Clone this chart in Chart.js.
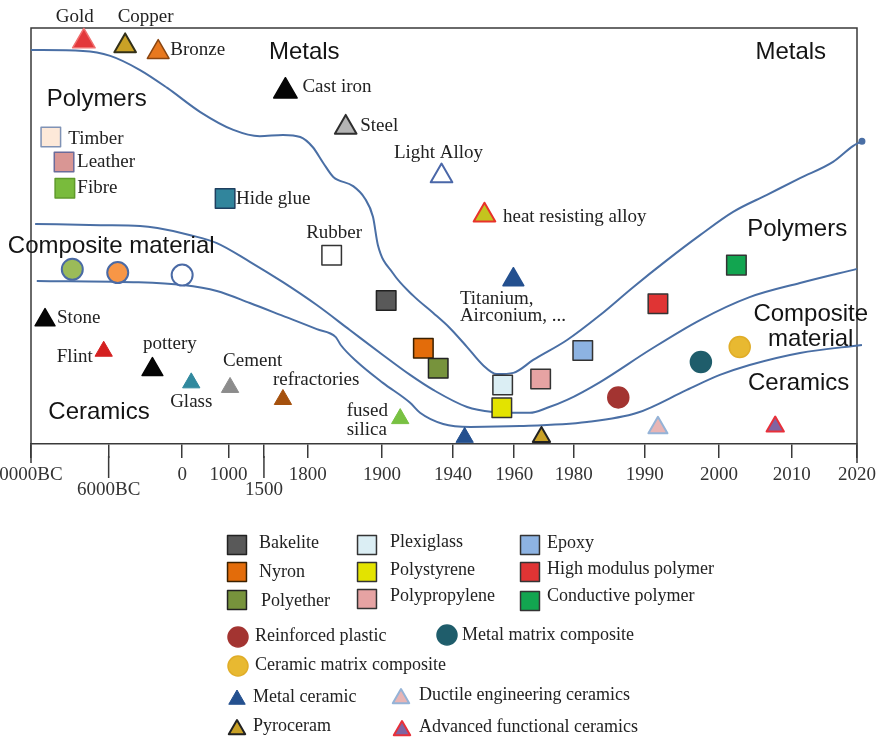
<!DOCTYPE html>
<html>
<head>
<meta charset="utf-8">
<script src="https://cdn.jsdelivr.net/npm/chart.js@4.4.1/dist/chart.umd.min.js"></script>
<style>
  html, body { margin: 0; padding: 0; background: #ffffff; }
  canvas { display: block; }
</style>
</head>
<body>
<canvas id="materials" width="881" height="738"></canvas>
<script>
// ---------- Timeline axis (0–100 across the frame) ----------
const tickLabels = ['0000BC', '6000BC', '0', '1000', '1500', '1800', '1900', '1940', '1960', '1980', '1990', '2000', '2010', '2020'];
const tickValues = [0, 9.4, 18.3, 23.9, 28.2, 33.5, 42.5, 51.1, 58.5, 65.7, 74.3, 83.3, 92.1, 100];
const droppedTicks = ['6000BC', '1500'];

// ---------- Materials (x = timeline position, y = relative importance) ----------
const metalNames = ['Gold', 'Copper', 'Bronze', 'Cast iron', 'Steel', 'Light Alloy', 'heat resisting alloy', 'Titanium'];
const metalX = [6.4, 11.4, 15.4, 30.8, 38.1, 49.7, 54.9, 58.4];
const metalY = [96.8, 95.7, 94.2, 84.8, 76.1, 64.4, 55.0, 39.5];

const polymerNames = ['Timber', 'Leather', 'Fibre', 'Hide glue', 'Rubber', 'Bakelite', 'Nyron', 'Polyether',
  'Plexiglass', 'Polystyrene', 'Polypropylene', 'Epoxy', 'High modulus polymer', 'Conductive polymer'];
const polymerX = [2.4, 4.0, 4.1, 23.5, 36.4, 43.0, 47.5, 49.3, 57.1, 57.0, 61.7, 66.8, 75.9, 85.4];
const polymerY = [73.8, 67.8, 61.5, 59.0, 45.4, 34.5, 23.0, 18.2, 14.2, 8.7, 15.6, 22.5, 33.7, 43.0];

const compositeNames = ['Early composite 1', 'Early composite 2', 'Early composite 3',
  'Reinforced plastic', 'Metal matrix composite', 'Ceramic matrix composite'];
const compositeX = [5.0, 10.5, 18.3, 71.1, 81.1, 85.8];
const compositeY = [42.0, 41.2, 40.6, 11.2, 19.7, 23.3];

const ceramicNames = ['Stone', 'Flint', 'pottery', 'Glass', 'Cement', 'refractories', 'fused silica',
  'Metal ceramic', 'Pyroceram', 'Ductile engineering ceramics', 'Advanced functional ceramics'];
const ceramicX = [1.7, 8.8, 14.7, 19.4, 24.1, 30.5, 44.7, 52.5, 61.8, 75.9, 90.1];
const ceramicY = [29.8, 22.3, 17.9, 14.7, 13.6, 10.7, 6.1, 1.6, 1.7, 3.9, 4.2];

// ---------- Region boundaries ----------
const metalPolymerX = [0, 6.3, 9.6, 13.2, 16.5, 20.5, 24.5, 27.7, 30.5, 32.6, 34.1, 35.4, 36.6, 39.0, 40.4, 41.4, 42.0,
  43.8, 46.3, 48.7, 50.7, 52.8, 54.7, 56.4, 58.4, 60.8, 64.9, 68.9, 72.9, 77.0, 81.0, 85.0, 89.1, 93.1, 97.1, 99.5, 100.6];
const metalPolymerY = [94.7, 94.5, 93.3, 89.9, 85.6, 79.8, 75.5, 74.0, 74.3, 73.8, 71.4, 67.5, 64.2, 62.0, 59.1, 54.6, 47.8,
  41.1, 35.6, 31.5, 27.9, 23.3, 19.0, 16.8, 17.1, 20.2, 25.0, 31.0, 37.7, 44.2, 50.2, 55.8, 59.9, 63.9, 67.8, 71.6, 72.8];

const polymerCompositeX = [0.5, 8.4, 13.2, 15.3, 19.3, 22.5, 26.5, 30.5, 34.6, 38.6, 42.6, 45.9, 48.7, 52.8, 55.9,
  58.4, 60.4, 62.5, 64.9, 68.9, 74.9, 81.0, 87.0, 93.1, 100];
const polymerCompositeY = [52.9, 52.6, 52.4, 51.9, 50.2, 48.3, 43.8, 38.9, 33.4, 27.4, 21.4, 16.6, 13.0, 8.9, 7.7,
  7.5, 7.5, 8.7, 10.6, 14.9, 22.6, 29.8, 35.3, 38.7, 42.1];

const compositeCeramicX = [0.7, 12.4, 18.4, 22.5, 26.5, 30.5, 34.6, 36.9, 37.5, 39.5, 42.6, 45.9, 47.1, 49.9, 53.2,
  59.2, 67.3, 73.4, 79.4, 83.4, 87.0, 93.1, 100.6];
const compositeCeramicY = [39.2, 38.9, 38.2, 36.8, 33.9, 30.8, 27.6, 25.7, 23.8, 19.7, 14.7, 9.9, 7.5, 4.8, 4.1,
  4.3, 5.3, 7.5, 13.0, 16.6, 19.0, 21.9, 23.8];

// ---------- Styles ----------
const SERIF = '"Liberation Serif", "Times New Roman", serif';
const SANS = '"Liberation Sans", Arial, sans-serif';
const CURVE = '#4a6fa5';
const FRAME = '#3a3a3a';

const tri = (fill, stroke, bw, r) => ({ shape: 'triangle', fill, stroke, bw, r });
const sq = (fill, stroke, bw) => ({ shape: 'rect', fill, stroke, bw: bw || 1.5, r: 13.8 });
const dot = (fill, stroke, bw) => ({ shape: 'circle', fill, stroke, bw: bw || 1.5, r: 10.5 });

const markerStyle = {
  'Gold': tri('#e3383b', '#f07070', 1.5, 13),
  'Copper': tri('#c9a126', '#333018', 2, 12.5),
  'Bronze': tri('#e8781e', '#8a4510', 1.5, 12.5),
  'Cast iron': tri('#050505', '#050505', 1.5, 13.5),
  'Steel': tri('#b4b4b4', '#2e2e2e', 2, 12.5),
  'Light Alloy': tri('#ffffff', '#4a67a8', 2, 12.5),
  'heat resisting alloy': tri('#c4c41e', '#e8322a', 2, 12.5),
  'Titanium': tri('#24508f', '#24508f', 1.5, 12),

  'Timber': sq('#fde9d9', '#7f92b5'),
  'Leather': sq('#d99694', '#6b6b9a'),
  'Fibre': sq('#79bb3c', '#5f9a2a'),
  'Hide glue': sq('#31859c', '#1f3f5f'),
  'Rubber': sq('#ffffff', '#333333'),
  'Bakelite': sq('#595959', '#222222'),
  'Nyron': sq('#e36c0a', '#3a2000'),
  'Polyether': sq('#77933c', '#222222'),
  'Plexiglass': sq('#dbeef4', '#333333'),
  'Polystyrene': sq('#e3e300', '#333333'),
  'Polypropylene': sq('#e6a3a3', '#333333'),
  'Epoxy': sq('#8db3e2', '#333333'),
  'High modulus polymer': sq('#e03434', '#333333'),
  'Conductive polymer': sq('#12a550', '#333333'),

  'Early composite 1': dot('#9bbb59', '#4a6aa5', 2),
  'Early composite 2': dot('#f79646', '#4a6aa5', 2),
  'Early composite 3': dot('#ffffff', '#4a6aa5', 2),
  'Reinforced plastic': dot('#a33431', '#a33431'),
  'Metal matrix composite': dot('#1f5d6b', '#1f5d6b'),
  'Ceramic matrix composite': dot('#e8b931', '#e0ad28'),

  'Stone': tri('#050505', '#050505', 1.5, 11.5),
  'Flint': tri('#d42020', '#d42020', 1, 10),
  'pottery': tri('#050505', '#050505', 1.5, 12),
  'Glass': tri('#31899e', '#31899e', 1, 10),
  'Cement': tri('#8c8c8c', '#8c8c8c', 1, 10),
  'refractories': tri('#a5510e', '#a5510e', 1, 10),
  'fused silica': tri('#78c142', '#78c142', 1, 10),
  'Metal ceramic': tri('#24508f', '#24508f', 1, 10),
  'Pyroceram': tri('#c9a126', '#222222', 2, 10),
  'Ductile engineering ceramics': tri('#e8b5b5', '#95b3d7', 2, 11),
  'Advanced functional ceramics': tri('#8064a2', '#e8303a', 2, 10)
};

// Text next to markers: offsets in pixels from the marker
const markerLabels = {
  'Gold': { lines: ['Gold'], dx: -9, dy: [-24], align: 'center' },
  'Copper': { lines: ['Copper'], dx: 20.5, dy: [-28.5], align: 'center' },
  'Bronze': { lines: ['Bronze'], dx: 12, dy: [-2], align: 'left' },
  'Cast iron': { lines: ['Cast iron'], dx: 17, dy: [-4], align: 'left' },
  'Steel': { lines: ['Steel'], dx: 14.5, dy: [-1.5], align: 'left' },
  'Light Alloy': { lines: ['Light Alloy'], dx: -3, dy: [-23], align: 'center' },
  'heat resisting alloy': { lines: ['heat resisting alloy'], dx: 18.5, dy: [2], align: 'left' },
  'Titanium': { lines: ['Titanium,', 'Airconium, ...'], dx: -53.5, dy: [19.5, 36.5], align: 'left' },
  'Timber': { lines: ['Timber'], dx: 17.5, dy: [2], align: 'left' },
  'Leather': { lines: ['Leather'], dx: 13, dy: [0.5], align: 'left' },
  'Fibre': { lines: ['Fibre'], dx: 12.5, dy: [0], align: 'left' },
  'Hide glue': { lines: ['Hide glue'], dx: 11, dy: [0.5], align: 'left' },
  'Rubber': { lines: ['Rubber'], dx: 2.5, dy: [-22], align: 'center' },
  'Stone': { lines: ['Stone'], dx: 12, dy: [-2], align: 'left' },
  'Flint': { lines: ['Flint'], dx: -11, dy: [6], align: 'right' },
  'pottery': { lines: ['pottery'], dx: 17.5, dy: [-25.5], align: 'center' },
  'Glass': { lines: ['Glass'], dx: 0, dy: [19], align: 'center' },
  'Cement': { lines: ['Cement'], dx: -7, dy: [-26.5], align: 'left' },
  'refractories': { lines: ['refractories'], dx: -10, dy: [-19.5], align: 'left' },
  'fused silica': { lines: ['fused', 'silica'], dx: -53.5, dy: [-7.5, 11.5], align: 'left' }
};

// Region names, placed in axis units
const regionLabels = [
  { lines: ['Metals'], x: 28.8, y: 94.2, align: 'left' },
  { lines: ['Metals'], x: 87.7, y: 94.2, align: 'left' },
  { lines: ['Polymers'], x: 1.9, y: 82.9, align: 'left' },
  { lines: ['Polymers'], x: 86.7, y: 51.7, align: 'left' },
  { lines: ['Composite material'], x: -2.8, y: 47.6, align: 'left' },
  { lines: ['Composite', 'material'], x: 94.4, y: 31.2, align: 'center' },
  { lines: ['Ceramics'], x: 2.1, y: 7.5, align: 'left' },
  { lines: ['Ceramics'], x: 86.8, y: 14.5, align: 'left' }
];

// Key below the chart (pixel layout)
const keyItems = [
  { name: 'Bakelite', x: 237, y: 545, tx: 259, ty: 543, r: 13.4 },
  { name: 'Nyron', x: 237, y: 572, tx: 259, ty: 572, r: 13.4 },
  { name: 'Polyether', x: 237, y: 600, tx: 261, ty: 601, r: 13.4 },
  { name: 'Plexiglass', x: 367, y: 545, tx: 390, ty: 542, r: 13.4 },
  { name: 'Polystyrene', x: 367, y: 572, tx: 390, ty: 570, r: 13.4 },
  { name: 'Polypropylene', x: 367, y: 599, tx: 390, ty: 596, r: 13.4 },
  { name: 'Epoxy', x: 530, y: 545, tx: 547, ty: 543, r: 13.4 },
  { name: 'High modulus polymer', x: 530, y: 572, tx: 547, ty: 569, r: 13.4 },
  { name: 'Conductive polymer', x: 530, y: 601, tx: 547, ty: 596, r: 13.4 },
  { name: 'Reinforced plastic', x: 238, y: 637, tx: 255, ty: 636, r: 10 },
  { name: 'Metal matrix composite', x: 447, y: 635, tx: 462, ty: 635, r: 10 },
  { name: 'Ceramic matrix composite', x: 238, y: 666, tx: 255, ty: 665, r: 10 },
  { name: 'Metal ceramic', x: 237, y: 699.5, tx: 253, ty: 697, r: 9.5 },
  { name: 'Ductile engineering ceramics', x: 401, y: 698.5, tx: 419, ty: 695, r: 9.5 },
  { name: 'Pyroceram', x: 237, y: 729.5, tx: 253, ty: 726, r: 9.5 },
  { name: 'Advanced functional ceramics', x: 402, y: 730.5, tx: 419, ty: 727, r: 9.5 }
];

// ---------- Helpers ----------
function toPoints(xs, ys) {
  return xs.map((x, i) => ({ x, y: ys[i] }));
}

function markerDataset(names, xs, ys) {
  const st = names.map(n => markerStyle[n]);
  return {
    type: 'scatter',
    names,
    data: toPoints(xs, ys),
    pointStyle: st.map(s => s.shape),
    pointRadius: st.map(s => s.r),
    pointHoverRadius: st.map(s => s.r),
    pointBackgroundColor: st.map(s => s.fill),
    pointBorderColor: st.map(s => s.stroke),
    pointBorderWidth: st.map(s => s.bw),
    showLine: false,
    clip: false,
    order: 0
  };
}

function boundaryDataset(xs, ys, endDot) {
  return {
    type: 'line',
    data: toPoints(xs, ys),
    borderColor: CURVE,
    borderWidth: 2,
    cubicInterpolationMode: 'monotone',
    pointRadius: xs.map((_, i) => (endDot && i === xs.length - 1 ? 2.5 : 0)),
    pointBackgroundColor: CURVE,
    pointBorderColor: CURVE,
    fill: false,
    clip: false,
    order: 10
  };
}

function drawMarker(ctx, s, x, y, r) {
  ctx.save();
  ctx.beginPath();
  if (s.shape === 'circle') {
    ctx.arc(x, y, r, 0, Math.PI * 2);
  } else if (s.shape === 'rect') {
    const h = r * Math.SQRT1_2;
    ctx.rect(x - h, y - h, 2 * h, 2 * h);
  } else {
    for (let k = 0; k < 3; k++) {
      const a = k * 2 * Math.PI / 3;
      const px = x + Math.sin(a) * r;
      const py = y - Math.cos(a) * r;
      if (k === 0) ctx.moveTo(px, py); else ctx.lineTo(px, py);
    }
    ctx.closePath();
  }
  ctx.fillStyle = s.fill;
  ctx.fill();
  ctx.lineWidth = s.bw;
  ctx.strokeStyle = s.stroke;
  ctx.lineJoin = 'round';
  ctx.stroke();
  ctx.restore();
}

// ---------- Plugins ----------
const framePlugin = {
  id: 'frame',
  beforeDatasetsDraw(chart) {
    const { ctx, chartArea: a, scales } = chart;
    ctx.save();
    ctx.strokeStyle = FRAME;
    ctx.lineWidth = 1.5;
    ctx.beginPath();
    ctx.moveTo(a.left, a.bottom + 19);
    ctx.lineTo(a.left, a.top);
    ctx.lineTo(a.right, a.top);
    ctx.lineTo(a.right, a.bottom + 19);
    // longer ticks under the staggered labels
    tickLabels.forEach((lab, i) => {
      if (droppedTicks.includes(lab)) {
        const px = scales.x.getPixelForValue(tickValues[i]);
        ctx.moveTo(px, a.bottom + 12);
        ctx.lineTo(px, a.bottom + 34);
      }
    });
    ctx.stroke();
    ctx.restore();
    ctx.lineJoin = 'round';
  },
  afterDatasetsDraw(chart) {
    chart.ctx.lineJoin = 'miter';
  }
};

const labelPlugin = {
  id: 'materialLabels',
  afterDatasetsDraw(chart) {
    const { ctx, scales } = chart;
    ctx.save();
    ctx.textBaseline = 'middle';
    // material names beside their markers
    ctx.font = '19px ' + SERIF;
    ctx.fillStyle = '#222222';
    chart.data.datasets.forEach(ds => {
      if (!ds.names) return;
      ds.names.forEach((n, i) => {
        const lab = markerLabels[n];
        if (!lab) return;
        const px = scales.x.getPixelForValue(ds.data[i].x);
        const py = scales.y.getPixelForValue(ds.data[i].y);
        ctx.textAlign = lab.align;
        lab.lines.forEach((t, k) => ctx.fillText(t, px + lab.dx, py + lab.dy[k]));
      });
    });
    // region names
    ctx.font = '24px ' + SANS;
    ctx.fillStyle = '#141414';
    regionLabels.forEach(r => {
      const px = scales.x.getPixelForValue(r.x);
      const py = scales.y.getPixelForValue(r.y);
      ctx.textAlign = r.align;
      r.lines.forEach((t, k) => ctx.fillText(t, px, py + k * 25));
    });
    ctx.restore();
  }
};

const keyPlugin = {
  id: 'materialKey',
  afterDraw(chart) {
    const ctx = chart.ctx;
    ctx.save();
    ctx.font = '18px ' + SERIF;
    ctx.fillStyle = '#222222';
    ctx.textAlign = 'left';
    ctx.textBaseline = 'middle';
    keyItems.forEach(it => {
      drawMarker(ctx, markerStyle[it.name], it.x, it.y, it.r);
      ctx.fillStyle = '#222222';
      ctx.fillText(it.name, it.tx, it.ty);
    });
    ctx.restore();
  }
};

// ---------- Chart ----------
new Chart(document.getElementById('materials'), {
  type: 'scatter',
  data: {
    datasets: [
      markerDataset(metalNames, metalX, metalY),
      markerDataset(polymerNames, polymerX, polymerY),
      markerDataset(compositeNames, compositeX, compositeY),
      markerDataset(ceramicNames, ceramicX, ceramicY),
      boundaryDataset(metalPolymerX, metalPolymerY, true),
      boundaryDataset(polymerCompositeX, polymerCompositeY, false),
      boundaryDataset(compositeCeramicX, compositeCeramicY, false)
    ]
  },
  options: {
    responsive: false,
    animation: false,
    events: [],
    layout: { padding: { left: 31, right: 24, top: 28, bottom: 234 } },
    plugins: { legend: { display: false }, tooltip: { enabled: false } },
    scales: {
      x: {
        type: 'linear',
        min: 0,
        max: 100,
        position: 'bottom',
        afterBuildTicks: scale => { scale.ticks = tickValues.map(v => ({ value: v })); },
        afterFit: scale => {
          scale.height = 60;
          // the end labels may hang past the frame
          scale.paddingLeft = 0;
          scale.paddingRight = 0;
        },
        ticks: {
          autoSkip: false,
          maxRotation: 0,
          padding: 6,
          color: '#333333',
          callback: (v, i) => droppedTicks.includes(tickLabels[i]) ? ['', tickLabels[i]] : tickLabels[i],
          font: ctx => ({
            family: SERIF,
            size: 19,
            lineHeight: droppedTicks.includes(tickLabels[ctx.index]) ? 0.91 : 1.2
          })
        },
        grid: { drawOnChartArea: false, drawTicks: true, tickLength: 14, color: FRAME, lineWidth: 1.5 },
        border: { display: true, color: FRAME, width: 1.5 }
      },
      y: { type: 'linear', min: 0, max: 100, display: false }
    }
  },
  plugins: [framePlugin, labelPlugin, keyPlugin]
});
</script>
</body>
</html>
